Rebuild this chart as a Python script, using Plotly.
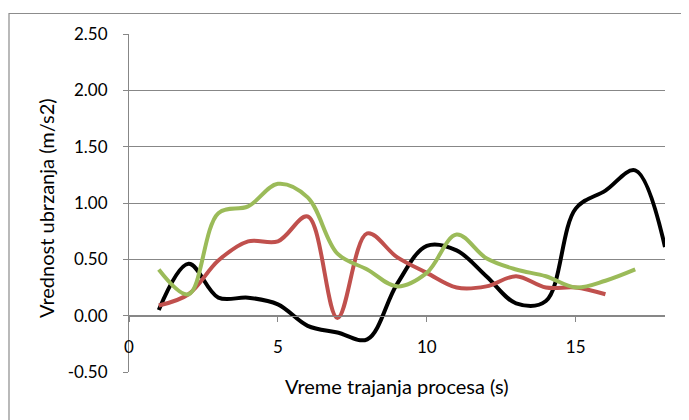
import plotly.graph_objects as go

# time (s)
t_black = list(range(1, 19))
t_red = list(range(1, 17))
t_green = list(range(1, 18))

# acceleration values (m/s2)
acc_black = [0.05, 0.46, 0.16, 0.16, 0.10, -0.09, -0.15, -0.21, 0.28, 0.62, 0.58, 0.35,
             0.11, 0.13, 0.95, 1.11, 1.29, 0.61]
acc_red = [0.09, 0.19, 0.49, 0.66, 0.66, 0.88, -0.02, 0.73, 0.52, 0.38, 0.25, 0.26,
           0.35, 0.25, 0.25, 0.19]
acc_green = [0.41, 0.19, 0.91, 0.97, 1.17, 1.05, 0.55, 0.41, 0.26, 0.38, 0.72, 0.51,
             0.41, 0.35, 0.25, 0.31, 0.41]

y_ticks = [-0.5, 0, 0.5, 1, 1.5, 2, 2.5]
y_labels = ["-0.50", "0.00", "0.50", "1.00", "1.50", "2.00", "2.50"]
x_ticks = [0, 5, 10, 15]

FONT = "Lato, 'Open Sans', sans-serif"
GRID = "#878787"

fig = go.Figure()
for t, y, c in [(t_black, acc_black, "#000000"),
                (t_red, acc_red, "#C0504D"),
                (t_green, acc_green, "#9BBB59")]:
    fig.add_trace(go.Scatter(x=t, y=y, mode="lines",
                             line=dict(color=c, width=4, shape="spline", smoothing=1.0),
                             showlegend=False, hoverinfo="skip"))

# page body adds an 8px offset, margins compensate for it
fig.update_layout(
    width=689, height=420,
    margin=dict(l=121, r=32, t=26, b=56),
    paper_bgcolor="white", plot_bgcolor="white",
    font=dict(family=FONT, size=17, color="#000000"),
    showlegend=False,
)

fig.update_yaxes(range=[-0.5, 2.5], tickvals=y_ticks, ticktext=y_labels, automargin=False,
                 showgrid=True, gridcolor=GRID, gridwidth=1, zeroline=False,
                 showline=True, linecolor=GRID, linewidth=1,
                 ticks="outside", ticklen=5, tickcolor=GRID,
                 tickfont=dict(size=17), ticklabelstandoff=12)

fig.update_xaxes(range=[0, 18], tickvals=x_ticks, showgrid=False, zeroline=False,
                 anchor="free", position=1 / 6, automargin=False,
                 showline=True, linecolor=GRID, linewidth=1,
                 ticks="outside", ticklen=5, tickcolor=GRID,
                 tickfont=dict(size=17), ticklabelstandoff=11)

fig.add_annotation(text="Vreme trajanja procesa (s)", xref="paper", yref="paper",
                   x=0.5, y=-0.042, xanchor="center", yanchor="middle",
                   showarrow=False, font=dict(size=20))
fig.add_annotation(text="Vrednost ubrzanja (m/s2)", xref="paper", yref="paper",
                   x=(46 - 129) / 536, y=(372 - 208) / 338, xanchor="center", yanchor="middle",
                   textangle=-90, showarrow=False, font=dict(size=20))

# chart area border (runs off the right and bottom edge)
fig.add_shape(type="rect", xref="paper", yref="paper",
              x0=(9 - 129) / 536, x1=1.2, y0=-0.3, y1=(372 - 13.5) / 338,
              line=dict(color="#8C8C8C", width=1.2), layer="below")

fig.write_html("out.html")
